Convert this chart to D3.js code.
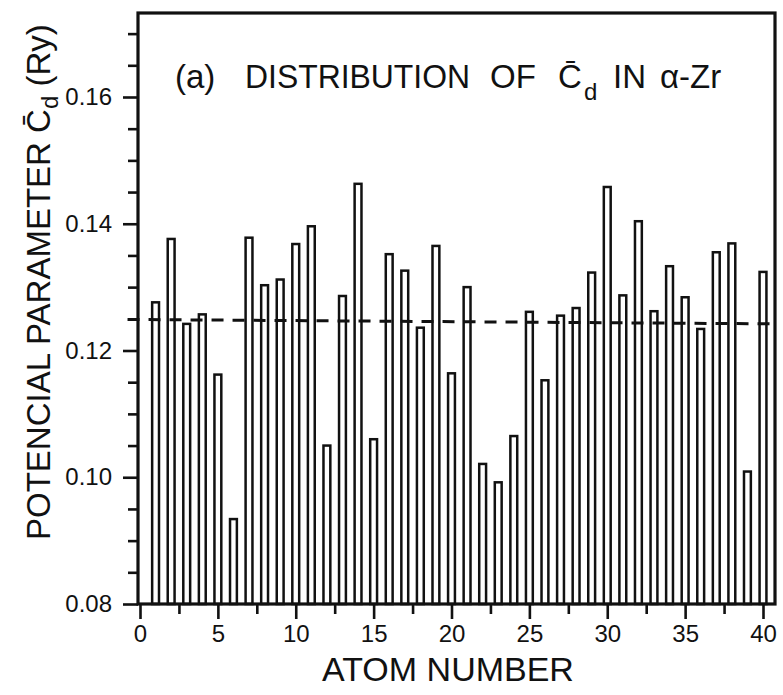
<!DOCTYPE html>
<html>
<head>
<meta charset="utf-8">
<script src="https://cdn.jsdelivr.net/npm/d3@7"></script>
<style>
  html, body { margin: 0; padding: 0; background: #fff; }
  svg { display: block; }
  text { font-family: "Liberation Sans", Arial, Helvetica, sans-serif; fill: #111; }
</style>
</head>
<body>
<svg id="chart" width="783" height="695"></svg>
<script>
// ---- data ----
const atomNumbers = [1,2,3,4,5,6,7,8,9,10,11,12,13,14,15,16,17,18,19,20,
                     21,22,23,24,25,26,27,28,29,30,31,32,33,34,35,36,37,38,39,40];
const cdValues = [0.1276,0.1376,0.1242,0.1257,0.1162,0.0934,0.1378,0.1303,0.1312,0.1368,
                  0.1396,0.1050,0.1286,0.1463,0.1060,0.1352,0.1326,0.1236,0.1365,0.1164,
                  0.1300,0.1021,0.0992,0.1065,0.1261,0.1153,0.1255,0.1267,0.1323,0.1458,
                  0.1287,0.1404,0.1262,0.1333,0.1284,0.1234,0.1355,0.1369,0.1009,0.1324];
const meanLineAtoms = [-0.8, 40.8];
const meanLineValues = [0.1249, 0.1242];
const xMajorTicks = [0,5,10,15,20,25,30,35,40];
const xMinorTicks = [2.5,7.5,12.5,17.5,22.5,27.5,32.5,37.5];
const yMajorTicks = [0.08,0.10,0.12,0.14,0.16];
const yMinorTicks = [0.085,0.09,0.095,0.105,0.11,0.115,0.125,0.13,0.135,0.145,0.15,0.155,0.165,0.17];

// ---- layout ----
const svg = d3.select("#chart");
const frame = {left: 138, right: 775, top: 13, bottom: 604};
const x = d3.scaleLinear().domain([0, 40]).range([140, 763]);
const y = d3.scaleLinear().domain([0.08, 0.16]).range([604, 97]);

const bars = atomNumbers.map((a, i) => ({atom: a, cd: cdValues[i]}));
const barW = (x(1) - x(0)) * 0.44;

// bars
svg.append("g").selectAll("rect").data(bars).join("rect")
  .attr("x", d => x(d.atom) - barW / 2)
  .attr("y", d => y(d.cd))
  .attr("width", barW)
  .attr("height", d => y(0.08) - y(d.cd))
  .attr("fill", "#fff")
  .attr("stroke", "#111")
  .attr("stroke-width", 2.5);

// mean dashed line
const meanPts = meanLineAtoms.map((a, i) => [x(a), y(meanLineValues[i])]);
svg.append("path")
  .attr("d", d3.line()(meanPts))
  .attr("fill", "none")
  .attr("stroke", "#111")
  .attr("stroke-width", 3)
  .attr("stroke-dasharray", "12,9");

// frame
svg.append("rect")
  .attr("x", frame.left).attr("y", frame.top)
  .attr("width", frame.right - frame.left)
  .attr("height", frame.bottom - frame.top)
  .attr("fill", "none").attr("stroke", "#111").attr("stroke-width", 3.2);

// axes
function styleAxis(g) {
  g.select(".domain").remove();
  g.selectAll(".tick line").attr("stroke", "#111").attr("stroke-width", 2.6);
  g.selectAll(".tick text").attr("fill", "#111").style("font-size", "24px")
    .style("font-family", '"Liberation Sans", Arial, sans-serif');
}
svg.append("g").attr("transform", `translate(0,${frame.bottom})`)
  .call(d3.axisBottom(x).tickValues(xMajorTicks).tickSize(15).tickPadding(6).tickFormat(d3.format("d")))
  .call(styleAxis);
svg.append("g").attr("transform", `translate(0,${frame.bottom})`)
  .call(d3.axisBottom(x).tickValues(xMinorTicks).tickSize(10).tickFormat(""))
  .call(styleAxis);
svg.append("g").attr("transform", `translate(${frame.left},0)`)
  .call(d3.axisLeft(y).tickValues(yMajorTicks).tickSize(15).tickPadding(11).tickFormat(d3.format(".2f")))
  .call(styleAxis);
svg.append("g").attr("transform", `translate(${frame.left},0)`)
  .call(d3.axisLeft(y).tickValues(yMinorTicks).tickSize(10).tickFormat(""))
  .call(styleAxis);

// title
const title = svg.append("g").style("font-size", "33px");
title.append("text").attr("x", 175).attr("y", 88).text("(a)");
title.append("text").attr("x", 245).attr("y", 88).attr("textLength", 225).attr("lengthAdjust", "spacingAndGlyphs").text("DISTRIBUTION");
title.append("text").attr("x", 490).attr("y", 88).text("OF");
title.append("text").attr("x", 558).attr("y", 88).text("C\u0304");
title.append("text").attr("x", 584).attr("y", 100).style("font-size", "24px").text("d");
title.append("text").attr("x", 613).attr("y", 88).text("IN");
title.append("text").attr("x", 660).attr("y", 88).text("\u03b1-Zr");

// y axis label
const yl = svg.append("text")
  .attr("transform", "rotate(-90)")
  .attr("x", -540).attr("y", 50)
  .style("font-size", "33px");
yl.append("tspan").text("POTENCIAL PARAMETER ");
yl.append("tspan").text("C\u0304");
yl.append("tspan").attr("dy", 8).style("font-size", "24px").text("d");
yl.append("tspan").attr("dy", -8).text(" (Ry)");

// x axis label
svg.append("text")
  .attr("x", 448).attr("y", 681)
  .attr("text-anchor", "middle")
  .style("font-size", "34px")
  .text("ATOM NUMBER");
</script>
</body>
</html>
